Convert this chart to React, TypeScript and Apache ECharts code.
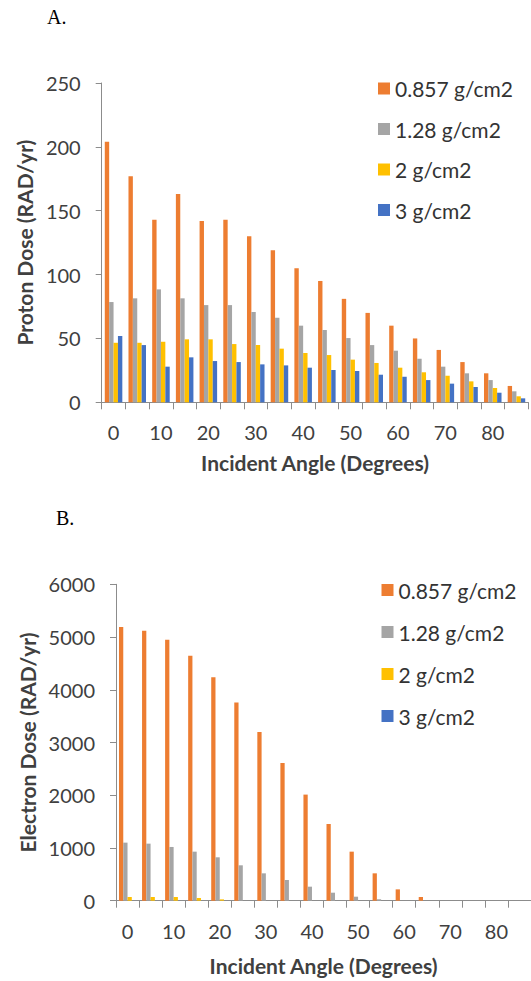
import React, { useEffect, useRef } from "react";
import * as echarts from "echarts";

const angles = ["0", "5", "10", "15", "20", "25", "30", "35", "40", "45", "50", "55", "60", "65", "70", "75", "80", "85"];
const seriesNames = ["0.857 g/cm2", "1.28 g/cm2", "2 g/cm2", "3 g/cm2"];
const colors = ["#ED7D31", "#A5A5A5", "#FFC000", "#4472C4"];

const proton0857 = [204, 177, 143, 163, 142, 143, 130, 119, 105, 95, 81, 70, 60, 50, 41, 31.5, 22.7, 12.8];
const proton128 = [78.5, 81.4, 88.4, 81.4, 76.1, 76.1, 70.7, 66.2, 60, 56.6, 50.3, 44.8, 40.4, 34.1, 27.9, 22.7, 17.4, 8.6];
const proton2 = [46.6, 46.6, 47.4, 49.3, 49.3, 45.6, 44.8, 42, 38.6, 37, 33.4, 30.8, 27.1, 23.5, 20.8, 16.4, 11.2, 4.7];
const proton3 = [51.9, 44.8, 27.9, 35.2, 32.3, 31.5, 29.7, 28.9, 27.1, 25.3, 24.5, 21.6, 20, 17.4, 14.6, 12, 7.5, 3.1];

const electron0857 = [5188, 5118, 4947, 4643, 4239, 3757, 3201, 2613, 2012, 1455, 930, 519, 215, 70, 0, 0, 0, 0];
const electron128 = [1101, 1082, 1019, 930, 823, 671, 519, 393, 266, 152, 76, 27, 0, 0, 0, 0, 0, 0];
const electron2 = [70, 70, 70, 51, 25, 0, 0, 0, 0, 0, 0, 0, 0, 0, 0, 0, 0, 0];
const electron3 = [0, 0, 0, 0, 0, 0, 0, 0, 0, 0, 0, 0, 0, 0, 0, 0, 0, 0];

const FONT = "Lato";
const AXIS_COLOR = "#8c8c8c";
const TEXT_COLOR = "#404040";

function xAxisCfg(gridIndex: number, nameGap: number) {
  return {
    type: "category",
    gridIndex,
    data: angles,
    name: "Incident Angle (Degrees)",
    nameLocation: "middle",
    nameGap,
    nameTextStyle: { fontFamily: FONT, fontWeight: "bold", fontSize: 21, color: TEXT_COLOR },
    axisLine: { lineStyle: { color: AXIS_COLOR, width: 1 } },
    axisTick: { show: true, interval: 0, length: 7, lineStyle: { color: AXIS_COLOR } },
    axisLabel: { interval: 1, margin: 20, fontFamily: FONT, fontSize: 20, color: TEXT_COLOR },
    splitLine: { show: false },
  };
}

function yAxisCfg(gridIndex: number, name: string, max: number, interval: number, nameGap: number) {
  return {
    type: "value",
    gridIndex,
    min: 0,
    max,
    interval,
    name,
    nameLocation: "middle",
    nameGap,
    nameTextStyle: { fontFamily: FONT, fontWeight: "bold", fontSize: 21, color: TEXT_COLOR },
    axisLine: { show: true, lineStyle: { color: AXIS_COLOR, width: 1 } },
    axisTick: { show: true, length: 6, lineStyle: { color: AXIS_COLOR } },
    axisLabel: {
      margin: 21,
      fontFamily: FONT,
      fontSize: 20,
      color: TEXT_COLOR,
      formatter: (v: number) => String(v),
    },
    splitLine: { show: false },
  };
}

function barSeries(name: string, data: number[], idx: number, axisIndex: number) {
  return {
    type: "bar",
    name,
    data,
    xAxisIndex: axisIndex,
    yAxisIndex: axisIndex,
    barGap: "0%",
    barCategoryGap: "26%",
    itemStyle: { color: colors[idx] },
  };
}

export default function App() {
  const ref = useRef<HTMLDivElement>(null);
  useEffect(() => {
    document.body.style.margin = "0";
    if (!ref.current) return;
    const chart = echarts.init(ref.current, null, { renderer: "svg" });
    const protonSets = [proton0857, proton128, proton2, proton3];
    const electronSets = [electron0857, electron128, electron2, electron3];
    const option = {
      animation: false,
      backgroundColor: "#ffffff",
      color: colors,
      grid: [
        { left: 101.7, top: 83, width: 426.6, height: 319.3, containLabel: false },
        { left: 116, top: 584.3, width: 418.5, height: 316.4, containLabel: false },
      ],
      legend: [
        {
          orient: "vertical",
          left: 378,
          top: 78,
          padding: 0,
          itemWidth: 12,
          itemHeight: 12,
          itemGap: 19.5,
          icon: "rect",
          textStyle: { fontFamily: FONT, fontSize: 21, color: "#333333" },
          data: seriesNames,
          selectedMode: false,
        },
        {
          orient: "vertical",
          left: 381.5,
          top: 579.5,
          padding: 0,
          itemWidth: 12,
          itemHeight: 12,
          itemGap: 21,
          icon: "rect",
          textStyle: { fontFamily: FONT, fontSize: 21, color: "#333333" },
          data: seriesNames,
          selectedMode: false,
        },
      ],
      xAxis: [xAxisCfg(0, 50), xAxisCfg(1, 54)],
      yAxis: [
        yAxisCfg(0, "Proton Dose (RAD/yr)", 250, 50, 64),
        yAxisCfg(1, "Electron Dose (RAD/yr)", 6000, 1000, 76),
      ],
      graphic: [
        { type: "text", left: 47, top: 7, style: { text: "A.", font: "20px 'Liberation Serif'", fill: "#000" } },
        { type: "text", left: 56, top: 508, style: { text: "B.", font: "20px 'Liberation Serif'", fill: "#000" } },
      ],
      series: [
        ...seriesNames.map((n, i) => barSeries(n, protonSets[i], i, 0)),
        ...seriesNames.map((n, i) => barSeries(n, electronSets[i], i, 1)),
      ],
    };
    chart.setOption(option as any);
    return () => chart.dispose();
  }, []);
  return <div ref={ref} style={{ width: 531, height: 981 }} />;
}
